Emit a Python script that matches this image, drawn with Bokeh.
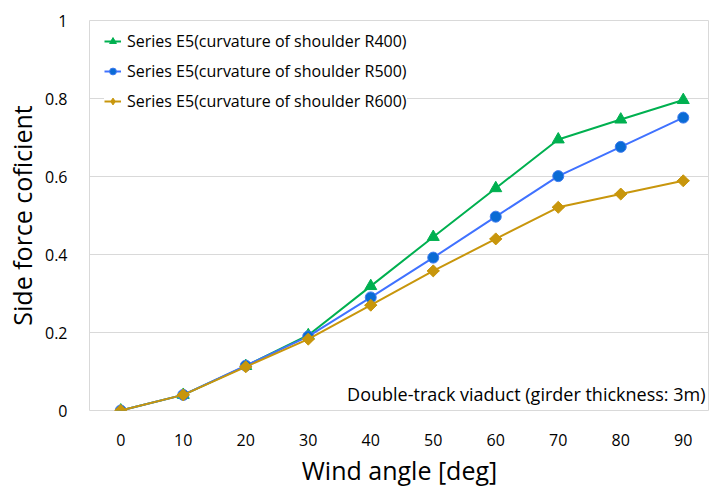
import math
from bokeh.plotting import figure
from bokeh.models import Legend, LegendItem, Label, FixedTicker, Range1d
from bokeh.embed import file_html
from bokeh.resources import INLINE

angles = [0, 10, 20, 30, 40, 50, 60, 70, 80, 90]
r400 = [0.0, 0.040, 0.114, 0.193, 0.319, 0.445, 0.570, 0.695, 0.746, 0.796]
r500 = [0.0, 0.040, 0.115, 0.190, 0.290, 0.392, 0.497, 0.601, 0.676, 0.751]
r600 = [0.0, 0.040, 0.112, 0.183, 0.270, 0.358, 0.440, 0.521, 0.555, 0.589]
names = ["Series E5(curvature of shoulder R400)",
         "Series E5(curvature of shoulder R500)",
         "Series E5(curvature of shoulder R600)"]
y_ticks = [0, 0.2, 0.4, 0.6, 0.8, 1.0]
y_labels = {0: "0", 0.2: "0.2", 0.4: "0.4", 0.6: "0.6", 0.8: "0.8", 1.0: "1"}
note = "Double-track viaduct (girder thickness: 3m)"

FONT = "Open Sans"
GREEN, BLUE_LINE, BLUE_FILL, GOLD = "#00b050", "#4072ff", "#0a6bd4", "#c8960c"

p = figure(width=709, height=489, output_backend="svg", toolbar_location=None,
           x_range=Range1d(-5, 94.2), y_range=Range1d(0, 1),
           min_border_left=89, min_border_right=0, min_border_top=20, min_border_bottom=76)
p.outline_line_color = "#d9d9d9"
p.background_fill_color = "white"
p.border_fill_color = "white"

p.xaxis.ticker = FixedTicker(ticks=angles)
p.yaxis.ticker = FixedTicker(ticks=y_ticks)
p.yaxis.major_label_overrides = y_labels
for ax in (p.xaxis[0], p.yaxis[0]):
    ax.axis_line_color = None
    ax.major_tick_line_color = None
    ax.minor_tick_line_color = None
    ax.major_label_text_font = FONT
    ax.major_label_text_font_size = "16px"
    ax.major_label_text_color = "#000000"
    ax.axis_label_text_font = FONT
    ax.axis_label_text_font_style = "normal"
    ax.axis_label_text_color = "#000000"
p.xaxis.axis_label = "Wind angle [deg]"
p.yaxis.axis_label = "Side force coficient"
p.xaxis.axis_label_text_font_size = "25px"
p.yaxis.axis_label_text_font_size = "25px"
p.xaxis.major_label_standoff = 17
p.yaxis.major_label_standoff = 16
p.xaxis.axis_label_standoff = 4
p.yaxis.axis_label_standoff = 3

p.xgrid.grid_line_color = None
p.ygrid.grid_line_color = "#d9d9d9"
p.ygrid.grid_line_width = 1

l1 = p.line(angles, r400, line_color=GREEN, line_width=2)
m1 = p.scatter(angles, r400, marker="triangle", size=12, fill_color=GREEN, line_color=GREEN)
l2 = p.line(angles, r500, line_color=BLUE_LINE, line_width=2)
m2 = p.scatter(angles, r500, marker="circle", size=11, fill_color=BLUE_FILL, line_color="#3f7cf0")
l3 = p.line(angles, r600, line_color=GOLD, line_width=2)
# flat diamond used as the legend key; it sits fully under the rotated squares
k3 = p.scatter(angles, r600, marker="diamond", size=12, angle=math.pi / 2,
               fill_color=GOLD, line_color=GOLD)
m3 = p.scatter(angles, r600, marker="square", size=8.5, angle=math.pi / 4,
               fill_color=GOLD, line_color=GOLD)

legend = Legend(items=[LegendItem(label=names[0], renderers=[l1, m1]),
                       LegendItem(label=names[1], renderers=[l2, m2]),
                       LegendItem(label=names[2], renderers=[l3, k3])],
                location=(15, 298), margin=0, padding=4, spacing=8,
                label_text_font=FONT, label_text_font_size="16px", label_text_color="#000000",
                label_height=20, glyph_width=17, glyph_height=20, label_standoff=6,
                border_line_color=None, background_fill_color="white", background_fill_alpha=1)
p.add_layout(legend, "center")

lab = Label(x=616, y=5, x_units="screen", y_units="screen", text=note,
            text_align="right", text_font=FONT, text_font_size="18px", text_color="#000000")
p.add_layout(lab)

open("out.html", "w").write(file_html(p, INLINE))
